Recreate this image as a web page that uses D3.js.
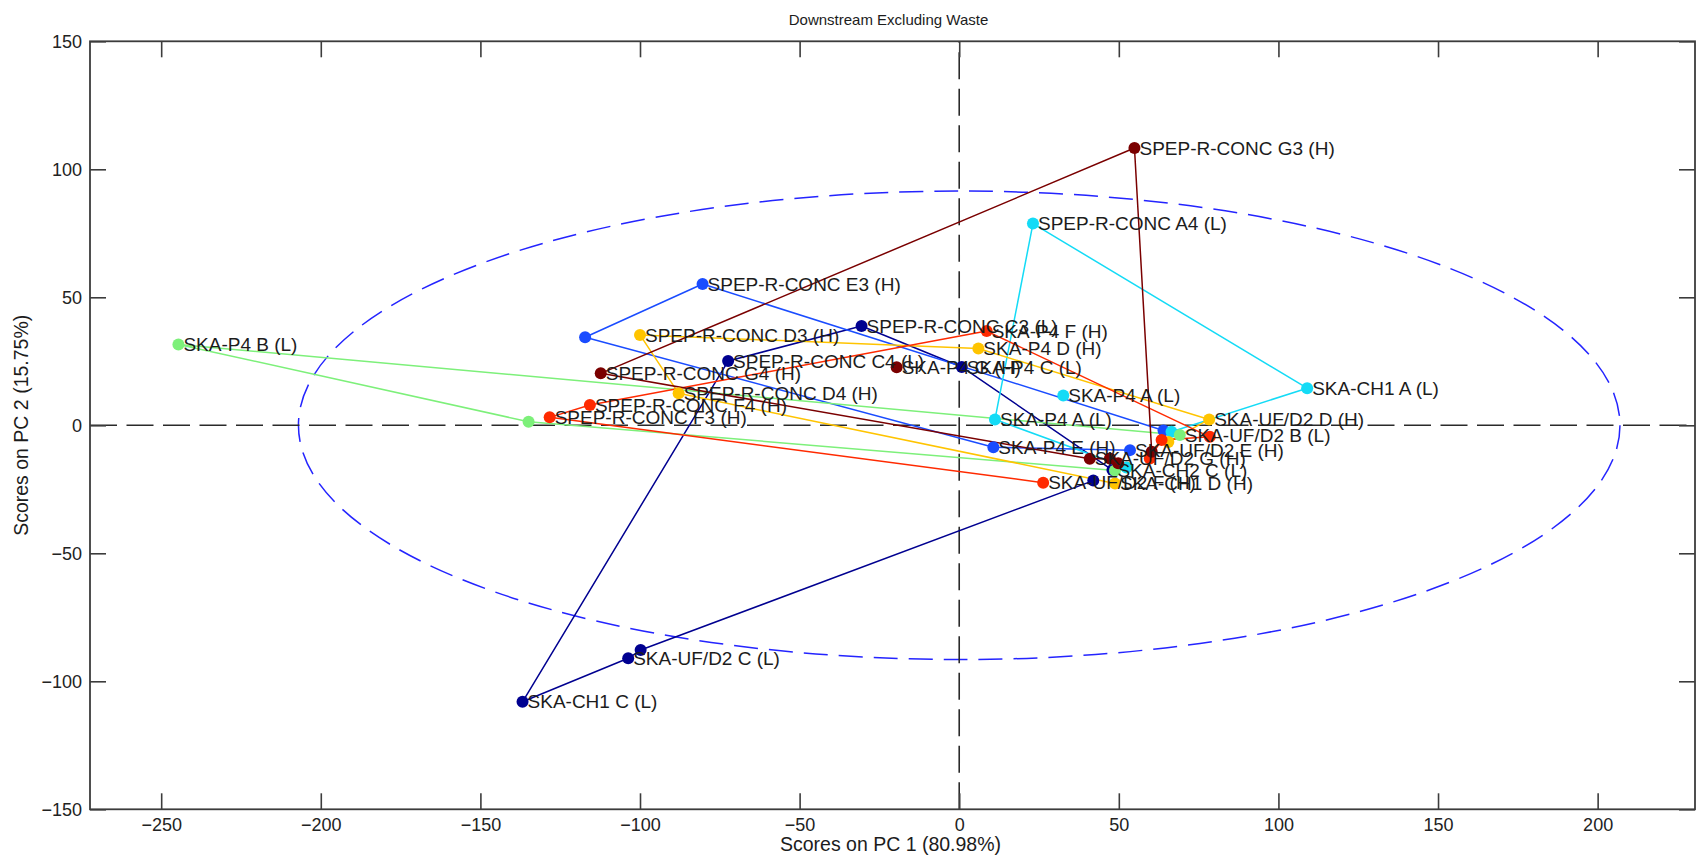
<!DOCTYPE html>
<html>
<head>
<meta charset="utf-8">
<title>Downstream Excluding Waste</title>
<script src="https://cdn.jsdelivr.net/npm/d3@7"></script>
<style>
  html, body { margin: 0; padding: 0; background: #fff; }
  svg { display: block; font-family: "Liberation Sans", Arial, Helvetica, sans-serif; }
</style>
</head>
<body>
<svg id="chart" width="1696" height="867"></svg>
<script>
// Scores on PC1 / PC2. Each series is a list of runs; each run is joined by a line.
// A point is [PC1 score, PC2 score, sample label or null].
const seriesC = [
  [[42.0, -21.6, null], [-99.8, -87.8, null], [-103.7, -91.0, "SKA-UF/D2 C (L)"],
   [-136.8, -108.0, "SKA-CH1 C (L)"], [-72.4, 25.1, "SPEP-R-CONC C4 (L)"],
   [-30.6, 38.8, "SPEP-R-CONC C3 (L)"], [0.8, 22.8, "SKA-P4 C (L)"], [48.0, -17.5, "SKA-CH2 C (L)"]]
];
const seriesE = [
  [[64.0, -2.0, null], [-80.4, 55.2, "SPEP-R-CONC E3 (H)"], [-117.2, 34.4, null],
   [10.7, -8.6, "SKA-P4 E (H)"], [53.5, -9.7, "SKA-UF/D2 E (H)"]]
];
const seriesA = [
  [[52.4, -16.5, null], [11.2, 2.3, "SKA-P4 A (L)"], [23.1, 78.8, "SPEP-R-CONC A4 (L)"],
   [109.0, 14.5, "SKA-CH1 A (L)"], [66.5, -2.5, null]],
  [[32.6, 11.6, "SKA-P4 A (L)"]]
];
const seriesB = [
  [[69.1, -3.8, "SKA-UF/D2 B (L)"], [-244.6, 31.6, "SKA-P4 B (L)"], [-134.9, 1.4, null], [48.8, -17.7, null]]
];
const seriesD = [
  [[48.8, -22.7, "SKA-CH1 D (H)"], [-87.9, 12.5, "SPEP-R-CONC D4 (H)"], [-100.0, 35.3, "SPEP-R-CONC D3 (H)"],
   [6.0, 30.0, "SKA-P4 D (H)"], [78.3, 2.3, "SKA-UF/D2 D (H)"], [65.5, -6.5, null]]
];
const seriesF = [
  [[26.3, -22.4, "SKA-UF/D2 F (H)"], [-128.3, 3.1, "SPEP-R-CONC F3 (H)"], [-115.7, 7.9, "SPEP-R-CONC F4 (H)"],
   [8.6, 36.8, "SKA-P4 F (H)"], [78.5, -4.5, null], [63.4, -5.7, null], [59.7, -13.0, null]]
];
const seriesG = [
  [[49.8, -14.8, null], [47.2, -13.0, null], [40.9, -13.1, "SKA-UF/D2 G (H)"],
   [-112.3, 20.3, "SPEP-R-CONC G4 (H)"], [54.9, 108.3, "SPEP-R-CONC G3 (H)"], [60.3, -10.3, null]],
  [[-19.6, 22.7, "SKA-P4 G (H)"]]
];

const seriesList = [seriesC, seriesE, seriesA, seriesB, seriesD, seriesF, seriesG];
const seriesColors = ["#000090", "#1a4cff", "#14dbf6", "#7df07a", "#ffc400", "#ff2a00", "#7a0000"];

// Confidence ellipse semi-axes (PC1, PC2)
const ellipseAxes = [207.0, 91.5];

const xTicks = [-250, -200, -150, -100, -50, 0, 50, 100, 150, 200];
const yTicks = [-150, -100, -50, 0, 50, 100, 150];
const xDomain = [-272.3, 230.5];
const yDomain = [-150, 150];

const titleText = "Downstream Excluding Waste";
const xLabelText = "Scores on PC 1 (80.98%)";
const yLabelText = "Scores on PC 2 (15.75%)";

// ---- layout ----
const W = 1696, H = 867;
const plot = { left: 90, right: 1695, top: 41.3, bottom: 809.3 };
const axisColor = "#3c3c3c";
const textColor = "#1c1c1c";

const svg = d3.select("#chart");
svg.append("rect").attr("width", W).attr("height", H).attr("fill", "#fff");

const x = d3.scaleLinear().domain(xDomain).range([plot.left, plot.right]);
const y = d3.scaleLinear().domain(yDomain).range([plot.bottom, plot.top]);

// clip for marks inside plot box
svg.append("clipPath").attr("id", "plotClip").append("rect")
  .attr("x", plot.left).attr("y", plot.top)
  .attr("width", plot.right - plot.left).attr("height", plot.bottom - plot.top);

const g = svg.append("g").attr("clip-path", "url(#plotClip)");

// confidence ellipse
g.append("ellipse")
  .attr("cx", x(0)).attr("cy", y(0))
  .attr("rx", x(ellipseAxes[0]) - x(0))
  .attr("ry", y(0) - y(ellipseAxes[1]))
  .attr("fill", "none")
  .attr("stroke", "#2424ff")
  .attr("stroke-width", 1.5)
  .attr("stroke-dasharray", "24,11");

// zero reference lines
g.append("line")
  .attr("x1", x(0)).attr("x2", x(0)).attr("y1", plot.bottom).attr("y2", plot.top)
  .attr("stroke", "#2a2a2a").attr("stroke-width", 1.6).attr("stroke-dasharray", "27,9.5");
g.append("line")
  .attr("x1", plot.left).attr("x2", plot.right).attr("y1", y(0)).attr("y2", y(0))
  .attr("stroke", "#2a2a2a").attr("stroke-width", 1.6).attr("stroke-dasharray", "27,9.5");

// lines for each series
const line = d3.line().x(d => x(d[0])).y(d => y(d[1]));
seriesList.forEach((series, i) => {
  series.forEach(run => {
    if (run.length < 2) return;
    g.append("path")
      .attr("d", line(run))
      .attr("fill", "none")
      .attr("stroke", seriesColors[i])
      .attr("stroke-width", 1.5)
      .attr("stroke-linejoin", "round");
  });
});

// markers
seriesList.forEach((series, i) => {
  const pts = series.flat();
  g.selectAll(null).data(pts).enter().append("circle")
    .attr("cx", d => x(d[0]))
    .attr("cy", d => y(d[1]))
    .attr("r", 6)
    .attr("fill", seriesColors[i]);
});

// sample labels
const labelled = seriesList.flatMap(s => s.flat()).filter(d => d[2]);
g.selectAll(null).data(labelled).enter().append("text")
  .attr("x", d => x(d[0]) + 5)
  .attr("y", d => y(d[1]))
  .attr("dy", "0.35em")
  .attr("font-size", 19)
  .attr("fill", textColor)
  .text(d => d[2]);

// axes: ticks pointing inward on all four sides
const tickLen = 16;
const xAxisB = d3.axisBottom(x).tickValues(xTicks).tickSizeInner(-tickLen).tickSizeOuter(0).tickPadding(9);
const xAxisT = d3.axisTop(x).tickValues(xTicks).tickSizeInner(-tickLen).tickSizeOuter(0).tickFormat("");
const yAxisL = d3.axisLeft(y).tickValues(yTicks).tickSizeInner(-tickLen).tickSizeOuter(0).tickPadding(8);
const yAxisR = d3.axisRight(y).tickValues(yTicks).tickSizeInner(-tickLen).tickSizeOuter(0).tickFormat("");

function styleAxis(sel) {
  sel.select(".domain").remove();
  sel.selectAll(".tick line").attr("stroke", axisColor).attr("stroke-width", 1.6);
  sel.selectAll(".tick text").attr("fill", "#222").attr("font-size", 18)
    .attr("font-family", "\"Liberation Sans\", Arial, sans-serif");
}

svg.append("g").attr("transform", `translate(0,${plot.bottom})`).call(xAxisB).call(styleAxis);
svg.append("g").attr("transform", `translate(0,${plot.top})`).call(xAxisT).call(styleAxis);
svg.append("g").attr("transform", `translate(${plot.left},0)`).call(yAxisL).call(styleAxis);
svg.append("g").attr("transform", `translate(${plot.right},0)`).call(yAxisR).call(styleAxis);

// plot box
svg.append("rect")
  .attr("x", plot.left).attr("y", plot.top)
  .attr("width", plot.right - plot.left).attr("height", plot.bottom - plot.top)
  .attr("fill", "none").attr("stroke", axisColor).attr("stroke-width", 1.8);

// title and axis labels
svg.append("text")
  .attr("x", (plot.left + plot.right) / 2 - 4).attr("y", 25)
  .attr("text-anchor", "middle").attr("font-size", 15).attr("fill", textColor)
  .text(titleText);

svg.append("text")
  .attr("x", (plot.left + plot.right) / 2 - 2).attr("y", 851)
  .attr("text-anchor", "middle").attr("font-size", 19.5).attr("fill", textColor)
  .text(xLabelText);

svg.append("text")
  .attr("transform", `translate(28,${(plot.top + plot.bottom) / 2}) rotate(-90)`)
  .attr("text-anchor", "middle").attr("font-size", 19.5).attr("fill", textColor)
  .text(yLabelText);
</script>
</body>
</html>
